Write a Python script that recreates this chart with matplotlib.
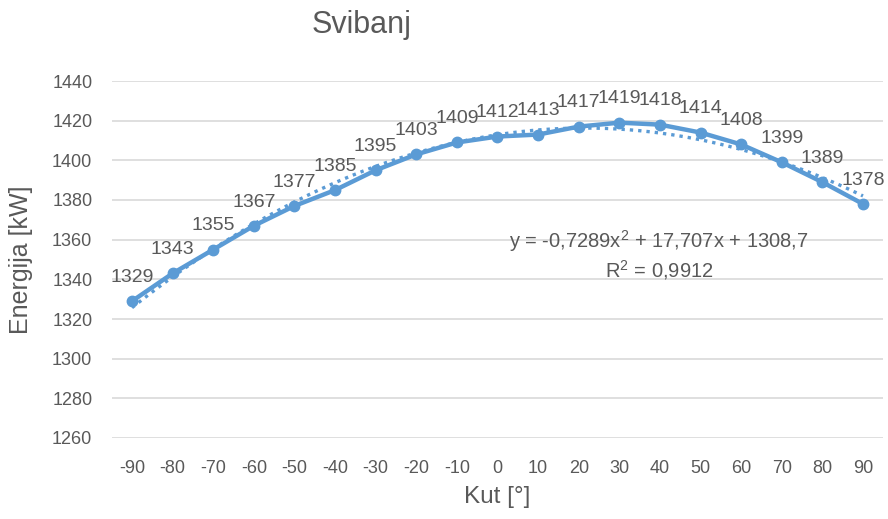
import matplotlib.pyplot as plt
import numpy as np

angles = [-90, -80, -70, -60, -50, -40, -30, -20, -10, 0, 10, 20, 30, 40, 50, 60, 70, 80, 90]
energy = [1329, 1343, 1355, 1367, 1377, 1385, 1395, 1403, 1409, 1412,
          1413, 1417, 1419, 1418, 1414, 1408, 1399, 1389, 1378]
eq_text = "y = -0,7289x$^2$ + 17,707x + 1308,7"
r2_text = "R$^2$ = 0,9912"

BLUE = "#5B9BD5"
GREY = "#595959"

plt.rcParams["font.family"] = ["Liberation Sans", "DejaVu Sans"]
plt.rcParams["mathtext.fontset"] = "custom"
plt.rcParams["mathtext.rm"] = "Liberation Sans"

fig = plt.figure(figsize=(8.88, 5.19), dpi=100)
ax = fig.add_axes([111.7 / 888, (519 - 438) / 519, (883.3 - 111.7) / 888, (438 - 81) / 519])

x = np.arange(1, len(angles) + 1)
ax.plot(x, energy, color=BLUE, lw=3.2, marker="o", ms=7.5, zorder=3)

# Excel-style polynomial trendline (order 2) over category index
coef = np.polyfit(x, energy, 2)
xs = np.linspace(1, len(angles), 200)
ax.plot(xs, np.polyval(coef, xs), color=BLUE, lw=2.4, ls=(0, (1, 1.5)), zorder=2)

for xi, yi in zip(x, energy):
    ax.annotate(str(yi), (xi, yi), xytext=(0, 11), textcoords="offset points",
                ha="center", va="bottom", fontsize=14, color=GREY)

ax.text(13.98, 1359.3, eq_text, ha="center", va="center", fontsize=14.5, color=GREY)
ax.text(13.98, 1344.7, r2_text, ha="center", va="center", fontsize=14.5, color=GREY)

ax.set_xlim(0.5, len(angles) + 0.5)
ax.set_ylim(1260, 1440)
ax.set_yticks(range(1260, 1441, 20))
ax.set_xticks(x)
ax.set_xticklabels([str(a) for a in angles])
ax.tick_params(length=0, labelsize=13, colors=GREY)
ax.tick_params(axis="y", pad=14)
ax.tick_params(axis="x", pad=16)
ax.grid(axis="y", color="#D9D9D9", lw=1.2)
ax.set_axisbelow(True)
for s in ax.spines.values():
    s.set_visible(False)

ax.set_xlabel("Kut [°]", fontsize=17.5, color=GREY, labelpad=6)
ax.set_ylabel("Energija [kW]", fontsize=18, color=GREY)
ax.yaxis.set_label_coords(-0.102, 0.5)
fig.text(362 / 888, 1 - 25 / 519, "Svibanj", ha="center", va="center", fontsize=22, color=GREY)

fig.savefig("out.png", dpi=100)
